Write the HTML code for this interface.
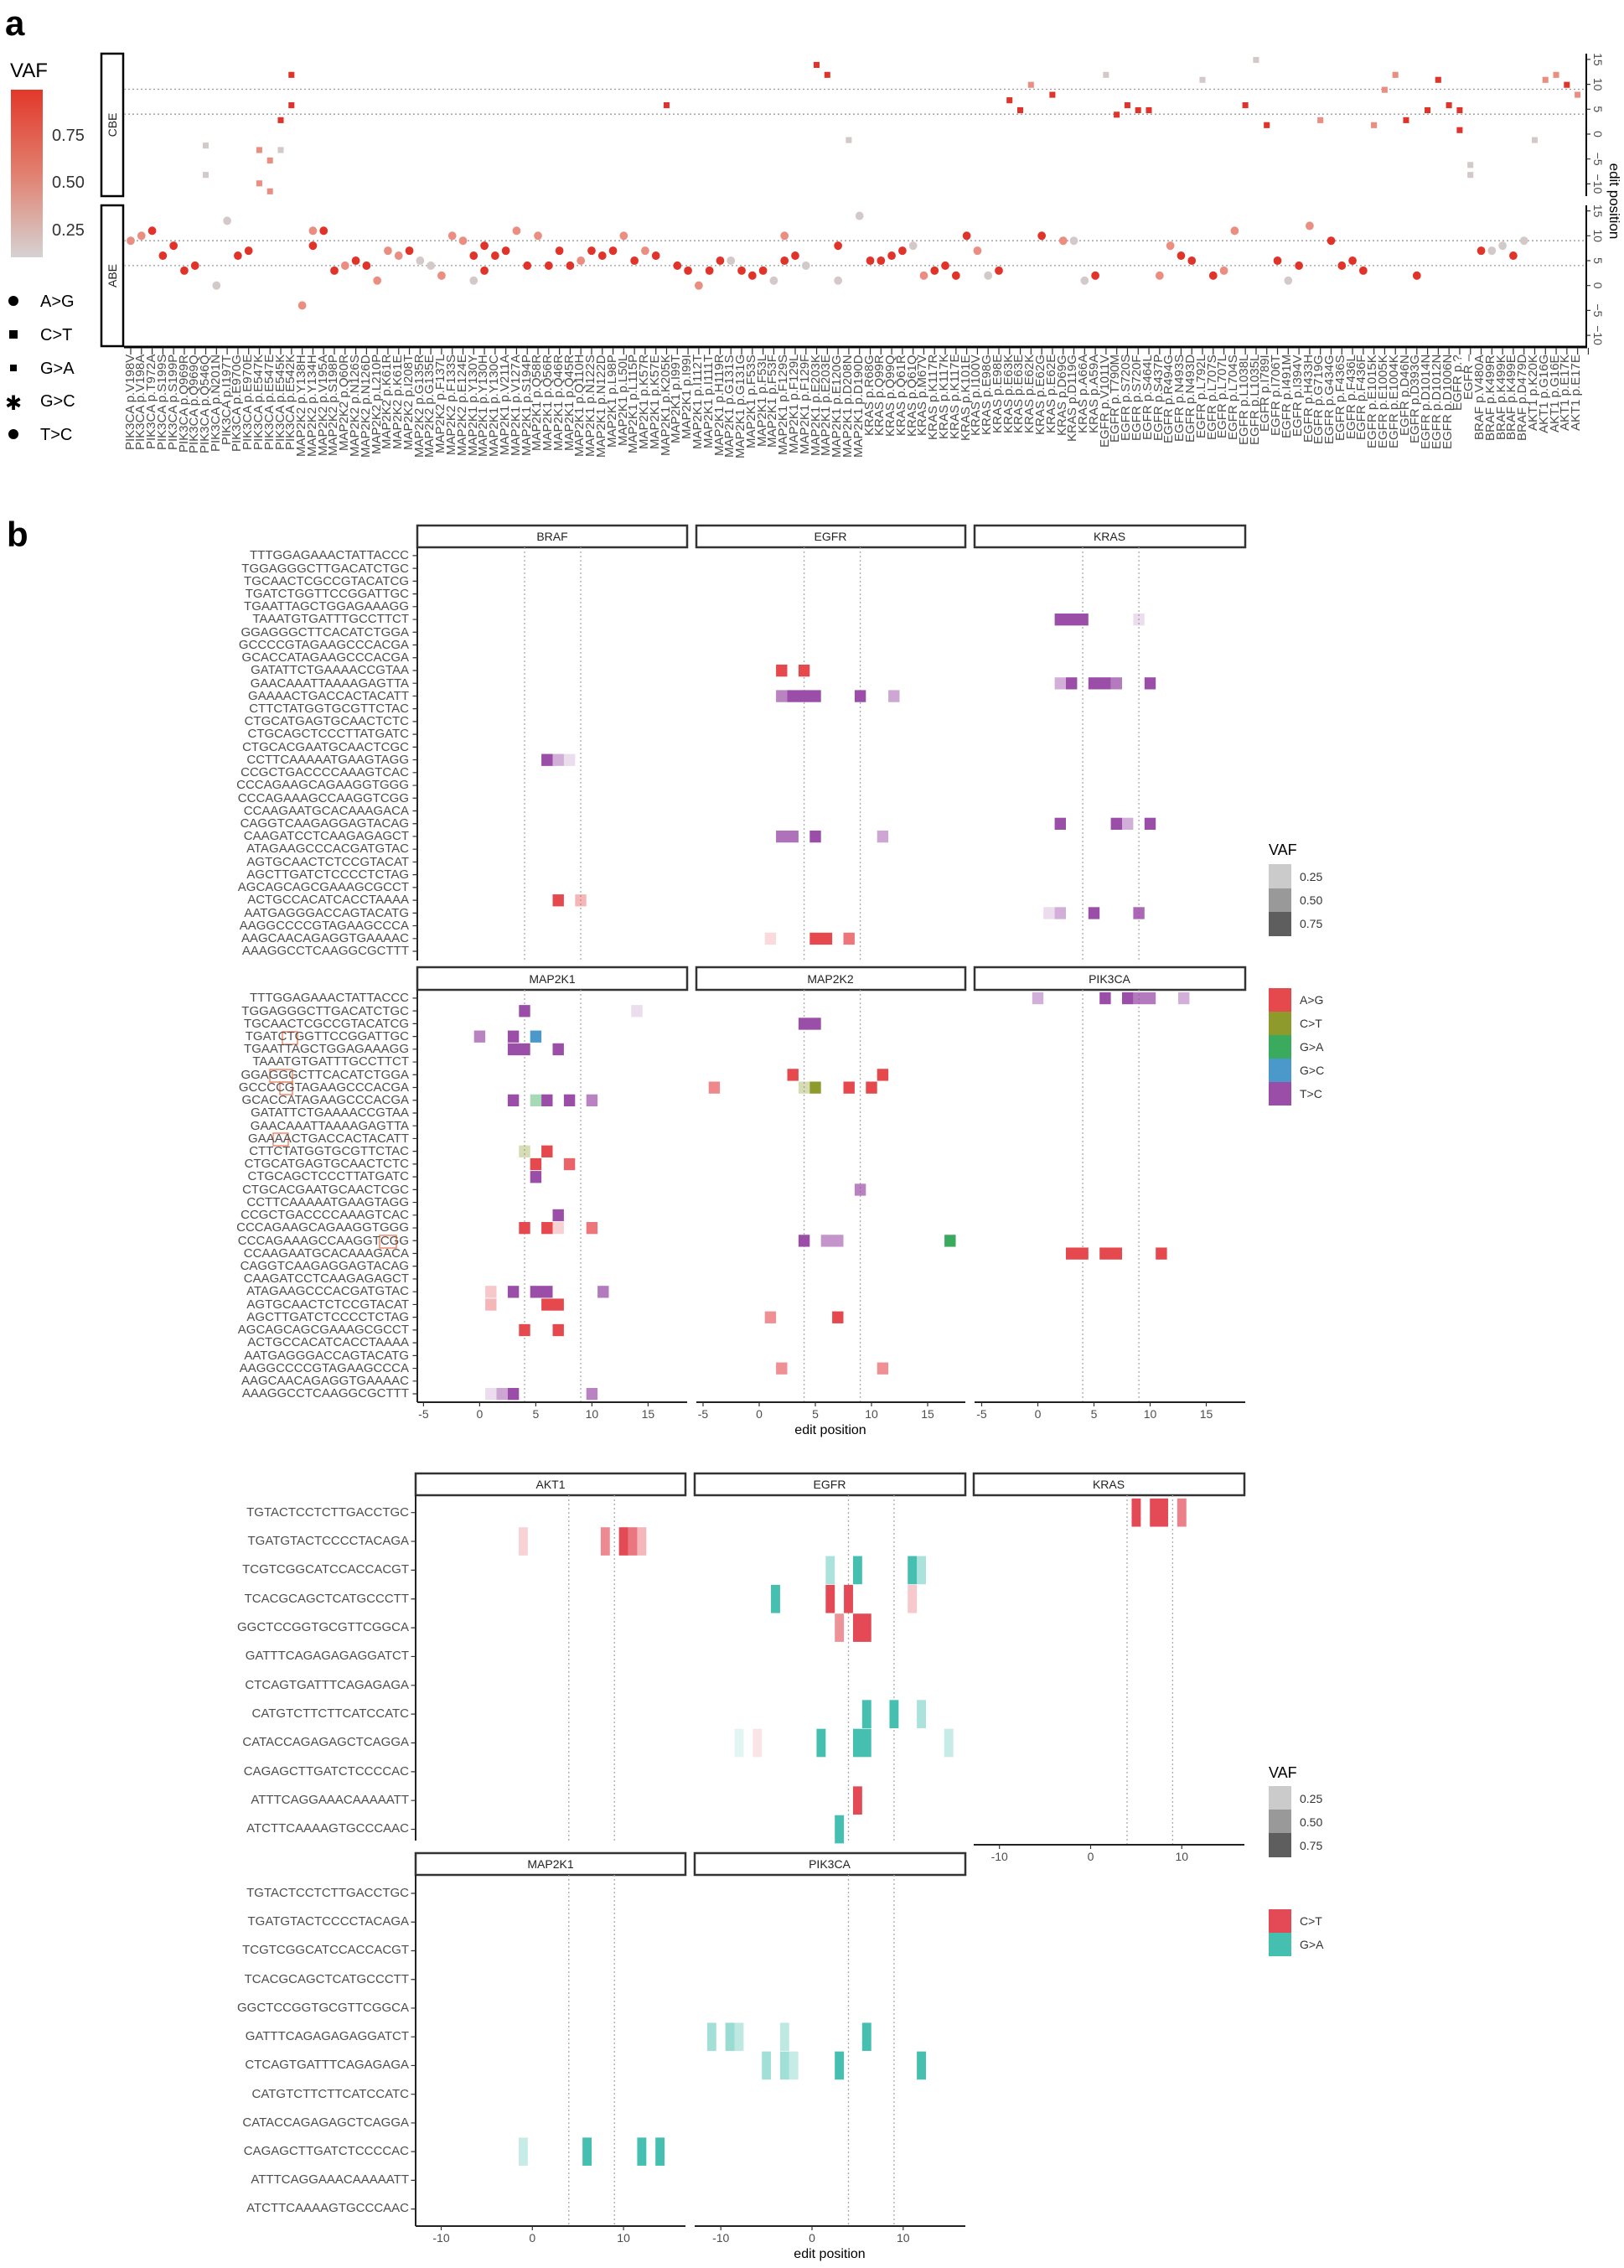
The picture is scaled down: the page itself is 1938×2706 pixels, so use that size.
<!DOCTYPE html>
<html><head><meta charset="utf-8"><style>
body{margin:0;background:#fff;}
#w{position:relative;width:1938px;height:2706px;overflow:hidden;font-family:"Liberation Sans",sans-serif;color:#4d4d4d;}
svg{position:absolute;left:0;top:0;}
.xl{position:absolute;top:423px;left:149.6px;display:flex;}
.xl div{width:12.79px;height:175px;writing-mode:vertical-rl;transform:rotate(180deg);text-align:right;font-size:15px;line-height:12.79px;white-space:nowrap;color:#4d4d4d;}
.rl{position:absolute;left:0;width:488px;text-align:right;font-size:15px;white-space:nowrap;color:#4d4d4d;}
.rl div{height:15.23px;line-height:15.23px;}
.rc{position:absolute;left:0;width:488px;text-align:right;font-size:15px;white-space:nowrap;color:#4d4d4d;}
</style></head><body><div id="w">
<svg width="1938" height="2706" viewBox="0 0 1938 2706" font-family="Liberation Sans, sans-serif">
<defs><linearGradient id="cb" x1="0" y1="0" x2="0" y2="1"><stop offset="0" stop-color="#e2382a"/><stop offset="0.5" stop-color="#e1806f"/><stop offset="1" stop-color="#d6d2d2"/></linearGradient></defs>
<!-- panel a -->
<text x="6" y="42" font-size="42" font-weight="bold" fill="#000">a</text>
<text x="12" y="92" font-size="24" fill="#000">VAF</text>
<rect x="13" y="107" width="38" height="200" fill="url(#cb)"/>
<g font-size="20" fill="#333"><text x="62" y="168">0.75</text><text x="62" y="224">0.50</text><text x="62" y="281">0.25</text></g>
<g font-size="20" fill="#000">
<circle cx="16" cy="359" r="6"/><text x="48" y="366">A&gt;G</text>
<rect x="11" y="394" width="10" height="10"/><text x="48" y="406">C&gt;T</text>
<rect x="12" y="435" width="8" height="8"/><text x="48" y="446">G&gt;A</text>
<text x="6" y="489" font-size="24">✱</text><text x="48" y="485">G&gt;C</text>
<circle cx="16" cy="518" r="6"/><text x="48" y="525">T&gt;C</text>
</g>
<rect x="121" y="64" width="26" height="170" fill="#fff" stroke="#000" stroke-width="2.5"/>
<rect x="121" y="245" width="26" height="168" fill="#fff" stroke="#000" stroke-width="2.5"/>
<text transform="translate(139 149) rotate(-90)" text-anchor="middle" font-size="14" fill="#222">CBE</text>
<text transform="translate(139 329) rotate(-90)" text-anchor="middle" font-size="14" fill="#222">ABE</text>
<g stroke="#999" stroke-width="1.3" stroke-dasharray="2 3">
<line x1="148" y1="136.2" x2="1893" y2="136.2"/><line x1="148" y1="106.5" x2="1893" y2="106.5"/>
<line x1="148" y1="316.9" x2="1893" y2="316.9"/><line x1="148" y1="287.2" x2="1893" y2="287.2"/>
</g>
<line x1="148" y1="414" x2="1894" y2="414" stroke="#000" stroke-width="3"/>
<line x1="1893" y1="64" x2="1893" y2="234" stroke="#000" stroke-width="2"/>
<line x1="1893" y1="245" x2="1893" y2="414" stroke="#000" stroke-width="2"/>
<line x1="155.4" y1="419" x2="1900" y2="419" stroke="#333" stroke-width="8" stroke-dasharray="1.2 11.59"/>
<g stroke="#333" stroke-width="1.2">
<path d="M1893 70.9h5M1893 100.6h5M1893 130.3h5M1893 160h5M1893 189.7h5M1893 219.4h5M1893 251.6h5M1893 281.3h5M1893 311h5M1893 340.7h5M1893 370.4h5M1893 400.1h5"/>
</g>
<g font-size="14" fill="#4d4d4d" text-anchor="middle">
<text transform="translate(1902 70.9) rotate(90)">15</text><text transform="translate(1902 100.6) rotate(90)">10</text><text transform="translate(1902 130.3) rotate(90)">5</text><text transform="translate(1902 160) rotate(90)">0</text><text transform="translate(1902 189.7) rotate(90)">−5</text><text transform="translate(1902 219.4) rotate(90)">−10</text>
<text transform="translate(1902 251.6) rotate(90)">15</text><text transform="translate(1902 281.3) rotate(90)">10</text><text transform="translate(1902 311) rotate(90)">5</text><text transform="translate(1902 340.7) rotate(90)">0</text><text transform="translate(1902 370.4) rotate(90)">−5</text><text transform="translate(1902 400.1) rotate(90)">−10</text>
</g>
<text transform="translate(1921 240) rotate(90)" text-anchor="middle" font-size="17" fill="#000">edit position</text>
<!-- CBE squares -->
<g transform="translate(156 160) scale(12.79 -5.94)">
<g fill="#d3c9c9"><rect x="6.72" y="-2.9" width="0.55" height="1.2"/><rect x="6.72" y="-8.8" width="0.55" height="1.2"/><rect x="13.72" y="-3.8" width="0.55" height="1.2"/><rect x="66.72" y="-1.8" width="0.55" height="1.2"/><rect x="90.72" y="11.3" width="0.55" height="1.2"/><rect x="99.72" y="10.3" width="0.55" height="1.2"/><rect x="104.72" y="14.3" width="0.55" height="1.2"/><rect x="124.72" y="-6.8" width="0.55" height="1.2"/><rect x="124.72" y="-8.8" width="0.55" height="1.2"/><rect x="130.72" y="-1.8" width="0.55" height="1.2"/></g>
<g fill="#e98e80"><rect x="11.72" y="-3.8" width="0.55" height="1.2"/><rect x="11.72" y="-10.5" width="0.55" height="1.2"/><rect x="12.72" y="-5.9" width="0.55" height="1.2"/><rect x="12.72" y="-12.1" width="0.55" height="1.2"/><rect x="83.72" y="9.3" width="0.55" height="1.2"/><rect x="110.72" y="2.2" width="0.55" height="1.2"/><rect x="115.72" y="1.2" width="0.55" height="1.2"/><rect x="116.72" y="8.3" width="0.55" height="1.2"/><rect x="117.72" y="11.3" width="0.55" height="1.2"/><rect x="131.72" y="10.3" width="0.55" height="1.2"/><rect x="132.72" y="11.3" width="0.55" height="1.2"/><rect x="134.72" y="7.3" width="0.55" height="1.2"/></g>
<g fill="#e0342a"><rect x="13.72" y="2.2" width="0.55" height="1.2"/><rect x="14.72" y="5.2" width="0.55" height="1.2"/><rect x="14.72" y="11.3" width="0.55" height="1.2"/><rect x="49.72" y="5.2" width="0.55" height="1.2"/><rect x="63.72" y="13.3" width="0.55" height="1.2"/><rect x="64.72" y="11.3" width="0.55" height="1.2"/><rect x="81.72" y="6.2" width="0.55" height="1.2"/><rect x="82.72" y="4.2" width="0.55" height="1.2"/><rect x="85.72" y="7.3" width="0.55" height="1.2"/><rect x="91.72" y="3.3" width="0.55" height="1.2"/><rect x="92.72" y="5.2" width="0.55" height="1.2"/><rect x="93.72" y="4.2" width="0.55" height="1.2"/><rect x="94.72" y="4.2" width="0.55" height="1.2"/><rect x="103.72" y="5.2" width="0.55" height="1.2"/><rect x="105.72" y="1.2" width="0.55" height="1.2"/><rect x="118.72" y="2.2" width="0.55" height="1.2"/><rect x="120.72" y="4.2" width="0.55" height="1.2"/><rect x="121.72" y="10.3" width="0.55" height="1.2"/><rect x="122.72" y="5.2" width="0.55" height="1.2"/><rect x="123.72" y="4.2" width="0.55" height="1.2"/><rect x="123.72" y="0.2" width="0.55" height="1.2"/><rect x="133.72" y="9.3" width="0.55" height="1.2"/></g>
</g>
<!-- ABE dots -->
<g transform="translate(156 340.7) scale(12.79 -5.94)">
<g fill="#d3c9c9"><ellipse cx="8" cy="0" rx="0.38" ry="0.85"/><ellipse cx="9" cy="13" rx="0.38" ry="0.85"/><ellipse cx="27" cy="5" rx="0.38" ry="0.85"/><ellipse cx="28" cy="4" rx="0.38" ry="0.85"/><ellipse cx="32" cy="1" rx="0.38" ry="0.85"/><ellipse cx="56" cy="5" rx="0.38" ry="0.85"/><ellipse cx="60" cy="1" rx="0.38" ry="0.85"/><ellipse cx="63" cy="4" rx="0.38" ry="0.85"/><ellipse cx="66" cy="1" rx="0.38" ry="0.85"/><ellipse cx="68" cy="14" rx="0.38" ry="0.85"/><ellipse cx="73" cy="8" rx="0.38" ry="0.85"/><ellipse cx="80" cy="2" rx="0.38" ry="0.85"/><ellipse cx="88" cy="9" rx="0.38" ry="0.85"/><ellipse cx="89" cy="1" rx="0.38" ry="0.85"/><ellipse cx="108" cy="1" rx="0.38" ry="0.85"/><ellipse cx="127" cy="7" rx="0.38" ry="0.85"/><ellipse cx="128" cy="8" rx="0.38" ry="0.85"/><ellipse cx="130" cy="9" rx="0.38" ry="0.85"/></g>
<g fill="#e98e80"><ellipse cx="0" cy="9" rx="0.38" ry="0.85"/><ellipse cx="1" cy="10" rx="0.38" ry="0.85"/><ellipse cx="16" cy="-4" rx="0.38" ry="0.85"/><ellipse cx="17" cy="11" rx="0.38" ry="0.85"/><ellipse cx="20" cy="4" rx="0.38" ry="0.85"/><ellipse cx="23" cy="1" rx="0.38" ry="0.85"/><ellipse cx="24" cy="7" rx="0.38" ry="0.85"/><ellipse cx="25" cy="6" rx="0.38" ry="0.85"/><ellipse cx="29" cy="2" rx="0.38" ry="0.85"/><ellipse cx="30" cy="10" rx="0.38" ry="0.85"/><ellipse cx="31" cy="9" rx="0.38" ry="0.85"/><ellipse cx="36" cy="11" rx="0.38" ry="0.85"/><ellipse cx="38" cy="10" rx="0.38" ry="0.85"/><ellipse cx="42" cy="5" rx="0.38" ry="0.85"/><ellipse cx="46" cy="10" rx="0.38" ry="0.85"/><ellipse cx="48" cy="7" rx="0.38" ry="0.85"/><ellipse cx="53" cy="0" rx="0.38" ry="0.85"/><ellipse cx="61" cy="10" rx="0.38" ry="0.85"/><ellipse cx="74" cy="2" rx="0.38" ry="0.85"/><ellipse cx="79" cy="7" rx="0.38" ry="0.85"/><ellipse cx="87" cy="9" rx="0.38" ry="0.85"/><ellipse cx="96" cy="2" rx="0.38" ry="0.85"/><ellipse cx="97" cy="8" rx="0.38" ry="0.85"/><ellipse cx="102" cy="3" rx="0.38" ry="0.85"/><ellipse cx="103" cy="11" rx="0.38" ry="0.85"/><ellipse cx="110" cy="12" rx="0.38" ry="0.85"/></g>
<g fill="#e0342a"><ellipse cx="2" cy="11" rx="0.38" ry="0.85"/><ellipse cx="3" cy="6" rx="0.38" ry="0.85"/><ellipse cx="4" cy="8" rx="0.38" ry="0.85"/><ellipse cx="5" cy="3" rx="0.38" ry="0.85"/><ellipse cx="6" cy="4" rx="0.38" ry="0.85"/><ellipse cx="10" cy="6" rx="0.38" ry="0.85"/><ellipse cx="11" cy="7" rx="0.38" ry="0.85"/><ellipse cx="17" cy="8" rx="0.38" ry="0.85"/><ellipse cx="18" cy="11" rx="0.38" ry="0.85"/><ellipse cx="19" cy="3" rx="0.38" ry="0.85"/><ellipse cx="21" cy="5" rx="0.38" ry="0.85"/><ellipse cx="22" cy="4" rx="0.38" ry="0.85"/><ellipse cx="26" cy="7" rx="0.38" ry="0.85"/><ellipse cx="32" cy="6" rx="0.38" ry="0.85"/><ellipse cx="33" cy="8" rx="0.38" ry="0.85"/><ellipse cx="33" cy="3" rx="0.38" ry="0.85"/><ellipse cx="34" cy="6" rx="0.38" ry="0.85"/><ellipse cx="35" cy="7" rx="0.38" ry="0.85"/><ellipse cx="37" cy="4" rx="0.38" ry="0.85"/><ellipse cx="39" cy="4" rx="0.38" ry="0.85"/><ellipse cx="40" cy="7" rx="0.38" ry="0.85"/><ellipse cx="41" cy="4" rx="0.38" ry="0.85"/><ellipse cx="43" cy="7" rx="0.38" ry="0.85"/><ellipse cx="44" cy="6" rx="0.38" ry="0.85"/><ellipse cx="45" cy="7" rx="0.38" ry="0.85"/><ellipse cx="47" cy="5" rx="0.38" ry="0.85"/><ellipse cx="49" cy="6" rx="0.38" ry="0.85"/><ellipse cx="51" cy="4" rx="0.38" ry="0.85"/><ellipse cx="52" cy="3" rx="0.38" ry="0.85"/><ellipse cx="54" cy="3" rx="0.38" ry="0.85"/><ellipse cx="55" cy="5" rx="0.38" ry="0.85"/><ellipse cx="57" cy="3" rx="0.38" ry="0.85"/><ellipse cx="58" cy="2" rx="0.38" ry="0.85"/><ellipse cx="59" cy="3" rx="0.38" ry="0.85"/><ellipse cx="61" cy="5" rx="0.38" ry="0.85"/><ellipse cx="62" cy="6" rx="0.38" ry="0.85"/><ellipse cx="66" cy="8" rx="0.38" ry="0.85"/><ellipse cx="69" cy="5" rx="0.38" ry="0.85"/><ellipse cx="70" cy="5" rx="0.38" ry="0.85"/><ellipse cx="71" cy="6" rx="0.38" ry="0.85"/><ellipse cx="72" cy="7" rx="0.38" ry="0.85"/><ellipse cx="75" cy="3" rx="0.38" ry="0.85"/><ellipse cx="76" cy="4" rx="0.38" ry="0.85"/><ellipse cx="77" cy="2" rx="0.38" ry="0.85"/><ellipse cx="78" cy="10" rx="0.38" ry="0.85"/><ellipse cx="81" cy="3" rx="0.38" ry="0.85"/><ellipse cx="85" cy="10" rx="0.38" ry="0.85"/><ellipse cx="90" cy="2" rx="0.38" ry="0.85"/><ellipse cx="98" cy="6" rx="0.38" ry="0.85"/><ellipse cx="99" cy="5" rx="0.38" ry="0.85"/><ellipse cx="101" cy="2" rx="0.38" ry="0.85"/><ellipse cx="107" cy="5" rx="0.38" ry="0.85"/><ellipse cx="109" cy="4" rx="0.38" ry="0.85"/><ellipse cx="112" cy="9" rx="0.38" ry="0.85"/><ellipse cx="113" cy="4" rx="0.38" ry="0.85"/><ellipse cx="114" cy="5" rx="0.38" ry="0.85"/><ellipse cx="115" cy="3" rx="0.38" ry="0.85"/><ellipse cx="120" cy="2" rx="0.38" ry="0.85"/><ellipse cx="126" cy="7" rx="0.38" ry="0.85"/><ellipse cx="129" cy="6" rx="0.38" ry="0.85"/></g>
</g>

<!-- panel b -->
<text x="8" y="652" font-size="42" font-weight="bold" fill="#000">b</text>
<g fill="#fff" stroke="#333" stroke-width="2.5">
<rect x="498" y="627" width="322" height="26"/><rect x="831" y="627" width="321" height="26"/><rect x="1163" y="627" width="323" height="26"/>
<rect x="498" y="1154" width="322" height="27"/><rect x="831" y="1154" width="321" height="27"/><rect x="1163" y="1154" width="323" height="27"/>
</g>
<g font-size="14" fill="#222" text-anchor="middle">
<text x="659" y="645">BRAF</text><text x="991" y="645">EGFR</text><text x="1324" y="645">KRAS</text>
<text x="659" y="1173">MAP2K1</text><text x="991" y="1173">MAP2K2</text><text x="1324" y="1173">PIK3CA</text>
</g>
<g stroke="#aaa" stroke-width="1.3" stroke-dasharray="2 3">
<path d="M626 653V1146M693.0 653V1146M959.6 653V1146M1026.6 653V1146M1292.1 653V1146M1359.1 653V1146"/>
<path d="M626 1181V1672M693.0 1181V1672M959.6 1181V1672M1026.6 1181V1672M1292.1 1181V1672M1359.1 1181V1672"/>
</g>
<g stroke="#222" stroke-width="2">
<path d="M498 653V1146M498 1181V1673M498 1673H820M831 1673H1152M1163 1673H1486"/>
</g>
<line x1="495" y1="662.3" x2="495" y2="1140" stroke="#333" stroke-width="5" stroke-dasharray="1.2 14.03"/>
<line x1="495" y1="1190.3" x2="495" y2="1668" stroke="#333" stroke-width="5" stroke-dasharray="1.2 14.03"/>
<g stroke="#333" stroke-width="1.2"><path d="M505.4 1673v5M572.4 1673v5M639.4 1673v5M706.4 1673v5M773.4 1673v5M839 1673v5M906 1673v5M973 1673v5M1040 1673v5M1107 1673v5M1171.5 1673v5M1238.5 1673v5M1305.5 1673v5M1372.5 1673v5M1439.5 1673v5"/></g>
<g font-size="14" fill="#4d4d4d" text-anchor="middle">
<text x="505.4" y="1692">-5</text><text x="572.4" y="1692">0</text><text x="639.4" y="1692">5</text><text x="706.4" y="1692">10</text><text x="773.4" y="1692">15</text>
<text x="839" y="1692">-5</text><text x="906" y="1692">0</text><text x="973" y="1692">5</text><text x="1040" y="1692">10</text><text x="1107" y="1692">15</text>
<text x="1171.5" y="1692">-5</text><text x="1238.5" y="1692">0</text><text x="1305.5" y="1692">5</text><text x="1372.5" y="1692">10</text><text x="1439.5" y="1692">15</text>
</g>
<text x="991" y="1711" font-size="16" fill="#000" text-anchor="middle">edit position</text>
<!-- b tiles top row -->
<g transform="translate(572.4 647.8) scale(13.4 15.23)">
<rect x="5.5" y="16.53" width="1" height="0.94" fill="#9b4ea8"/><rect x="6.5" y="16.53" width="1" height="0.94" fill="#9b4ea8" opacity="0.45"/><rect x="7.5" y="16.53" width="1" height="0.94" fill="#9b4ea8" opacity="0.2"/>
<rect x="6.5" y="27.53" width="1" height="0.94" fill="#e5484d"/><rect x="8.5" y="27.53" width="1" height="0.94" fill="#e5484d" opacity="0.4"/>
</g>
<g transform="translate(906 647.8) scale(13.4 15.23)">
<g fill="#e5484d"><rect x="1.5" y="9.53" width="1" height="0.94"/><rect x="3.5" y="9.53" width="1" height="0.94"/><rect x="0.5" y="30.53" width="1" height="0.94" opacity="0.2"/><rect x="4.5" y="30.53" width="2" height="0.94"/><rect x="7.5" y="30.53" width="1" height="0.94" opacity="0.75"/></g>
<g fill="#9b4ea8"><rect x="1.5" y="11.53" width="1" height="0.94" opacity="0.7"/><rect x="2.5" y="11.53" width="3" height="0.94"/><rect x="8.5" y="11.53" width="1" height="0.94"/><rect x="11.5" y="11.53" width="1" height="0.94" opacity="0.5"/>
<rect x="1.5" y="22.53" width="2" height="0.94" opacity="0.8"/><rect x="4.5" y="22.53" width="1" height="0.94"/><rect x="10.5" y="22.53" width="1" height="0.94" opacity="0.5"/></g>
</g>
<g transform="translate(1238.5 647.8) scale(13.4 15.23)" fill="#9b4ea8">
<rect x="1.5" y="5.53" width="3" height="0.94"/><rect x="8.5" y="5.53" width="1" height="0.94" opacity="0.2"/>
<rect x="1.5" y="10.53" width="1" height="0.94" opacity="0.45"/><rect x="2.5" y="10.53" width="1" height="0.94"/><rect x="4.5" y="10.53" width="2" height="0.94"/><rect x="6.5" y="10.53" width="1" height="0.94" opacity="0.75"/><rect x="9.5" y="10.53" width="1" height="0.94"/>
<rect x="1.5" y="21.53" width="1" height="0.94"/><rect x="6.5" y="21.53" width="1" height="0.94"/><rect x="7.5" y="21.53" width="1" height="0.94" opacity="0.45"/><rect x="9.5" y="21.53" width="1" height="0.94"/>
<rect x="0.5" y="28.53" width="1" height="0.94" opacity="0.2"/><rect x="1.5" y="28.53" width="1" height="0.94" opacity="0.45"/><rect x="4.5" y="28.53" width="1" height="0.94"/><rect x="8.5" y="28.53" width="1" height="0.94" opacity="0.85"/>
</g>
<!-- b tiles bottom row -->
<g transform="translate(572.4 1175.8) scale(13.4 15.23)">
<g fill="#9b4ea8"><rect x="3.5" y="1.53" width="1" height="0.94"/><rect x="13.5" y="1.53" width="1" height="0.94" opacity="0.2"/>
<rect x="-0.5" y="3.53" width="1" height="0.94" opacity="0.7"/><rect x="2.5" y="3.53" width="1" height="0.94"/>
<rect x="2.5" y="4.53" width="2" height="0.94"/><rect x="6.5" y="4.53" width="1" height="0.94"/>
<rect x="2.5" y="8.53" width="1" height="0.94"/><rect x="5.5" y="8.53" width="1" height="0.94"/><rect x="7.5" y="8.53" width="1" height="0.94"/><rect x="9.5" y="8.53" width="1" height="0.94" opacity="0.7"/>
<rect x="4.5" y="14.53" width="1" height="0.94"/><rect x="6.5" y="17.53" width="1" height="0.94"/>
<rect x="2.5" y="23.53" width="1" height="0.94"/><rect x="4.5" y="23.53" width="2" height="0.94"/><rect x="10.5" y="23.53" width="1" height="0.94" opacity="0.75"/>
<rect x="0.5" y="31.53" width="1" height="0.94" opacity="0.2"/><rect x="1.5" y="31.53" width="1" height="0.94" opacity="0.5"/><rect x="2.5" y="31.53" width="1" height="0.94"/><rect x="9.5" y="31.53" width="1" height="0.94" opacity="0.7"/></g>
<rect x="4.5" y="3.53" width="1" height="0.94" fill="#4b98cb"/>
<rect x="4.5" y="8.53" width="1" height="0.94" fill="#3aaa5e" opacity="0.45"/>
<rect x="3.5" y="12.53" width="1" height="0.94" fill="#8f9a2c" opacity="0.35"/>
<g fill="#e5484d"><rect x="5.5" y="12.53" width="1" height="0.94"/><rect x="4.5" y="13.53" width="1" height="0.94"/><rect x="7.5" y="13.53" width="1" height="0.94" opacity="0.85"/>
<rect x="3.5" y="18.53" width="1" height="0.94"/><rect x="5.5" y="18.53" width="1" height="0.94"/><rect x="6.5" y="18.53" width="1" height="0.94" opacity="0.25"/><rect x="9.5" y="18.53" width="1" height="0.94" opacity="0.75"/>
<rect x="0.5" y="23.53" width="1" height="0.94" opacity="0.3"/><rect x="0.5" y="24.53" width="1" height="0.94" opacity="0.4"/><rect x="5.5" y="24.53" width="2" height="0.94"/>
<rect x="3.5" y="26.53" width="1" height="0.94"/><rect x="6.5" y="26.53" width="1" height="0.94"/></g>
</g>
<g transform="translate(906 1175.8) scale(13.4 15.23)">
<g fill="#9b4ea8"><rect x="3.5" y="2.53" width="2" height="0.94"/><rect x="8.5" y="15.53" width="1" height="0.94" opacity="0.7"/><rect x="3.5" y="19.53" width="1" height="0.94"/><rect x="5.5" y="19.53" width="2" height="0.94" opacity="0.6"/></g>
<g fill="#e5484d"><rect x="2.5" y="6.53" width="1" height="0.94"/><rect x="10.5" y="6.53" width="1" height="0.94"/><rect x="-4.5" y="7.53" width="1" height="0.94" opacity="0.65"/><rect x="7.5" y="7.53" width="1" height="0.94"/><rect x="9.5" y="7.53" width="1" height="0.94"/>
<rect x="0.5" y="25.53" width="1" height="0.94" opacity="0.6"/><rect x="6.5" y="25.53" width="1" height="0.94"/><rect x="1.5" y="29.53" width="1" height="0.94" opacity="0.6"/><rect x="10.5" y="29.53" width="1" height="0.94" opacity="0.6"/></g>
<rect x="3.5" y="7.53" width="1" height="0.94" fill="#8f9a2c" opacity="0.35"/><rect x="4.5" y="7.53" width="1" height="0.94" fill="#8f9a2c"/>
<rect x="16.5" y="19.53" width="1" height="0.94" fill="#3aaa5e"/>
</g>
<g transform="translate(1238.5 1175.8) scale(13.4 15.23)">
<g fill="#9b4ea8"><rect x="-0.5" y="0.53" width="1" height="0.94" opacity="0.45"/><rect x="5.5" y="0.53" width="1" height="0.94"/><rect x="7.5" y="0.53" width="1" height="0.94"/><rect x="8.5" y="0.53" width="2" height="0.94" opacity="0.75"/><rect x="12.5" y="0.53" width="1" height="0.94" opacity="0.45"/></g>
<g fill="#e5484d"><rect x="2.5" y="20.53" width="2" height="0.94"/><rect x="5.5" y="20.53" width="2" height="0.94"/><rect x="10.5" y="20.53" width="1" height="0.94"/></g>
</g>
<g fill="none" stroke="#e8704a" stroke-width="1.2">
<rect x="337" y="1231" width="18" height="15"/><rect x="322" y="1276" width="27" height="15"/><rect x="334" y="1291" width="15" height="15"/><rect x="326" y="1352" width="18" height="15"/><rect x="453" y="1474" width="20" height="15"/>
</g>
<!-- legend b -->
<text x="1514" y="1020" font-size="18" fill="#000">VAF</text>
<rect x="1514" y="1031" width="27" height="29" fill="#cbcbcb"/><rect x="1514" y="1060" width="27" height="28" fill="#999"/><rect x="1514" y="1088" width="27" height="29" fill="#5e5e5e"/>
<g font-size="14" fill="#333"><text x="1551" y="1051">0.25</text><text x="1551" y="1079">0.50</text><text x="1551" y="1107">0.75</text></g>
<rect x="1514" y="1179" width="27" height="28" fill="#e5484d"/><rect x="1514" y="1207" width="27" height="28" fill="#8f9a2c"/><rect x="1514" y="1235" width="27" height="28" fill="#3aaa5e"/><rect x="1514" y="1263" width="27" height="28" fill="#4b98cb"/><rect x="1514" y="1291" width="27" height="28" fill="#9b4ea8"/>
<g font-size="14" fill="#333"><text x="1551" y="1198">A&gt;G</text><text x="1551" y="1226">C&gt;T</text><text x="1551" y="1254">G&gt;A</text><text x="1551" y="1282">G&gt;C</text><text x="1551" y="1310">T&gt;C</text></g>

<!-- panel c -->
<g fill="#fff" stroke="#333" stroke-width="2.5">
<rect x="496" y="1758" width="322" height="26"/><rect x="829" y="1758" width="323" height="26"/><rect x="1162" y="1758" width="323" height="26"/>
<rect x="496" y="2211" width="322" height="26"/><rect x="829" y="2211" width="323" height="26"/>
</g>
<g font-size="14" fill="#222" text-anchor="middle">
<text x="657" y="1776">AKT1</text><text x="990" y="1776">EGFR</text><text x="1323" y="1776">KRAS</text>
<text x="657" y="2229">MAP2K1</text><text x="990" y="2229">PIK3CA</text>
</g>
<g stroke="#aaa" stroke-width="1.3" stroke-dasharray="2 3">
<path d="M678.8 1784V2196M733.2 1784V2196M1012.5 1784V2196M1066.9 1784V2196M1345 1784V2200M1399.4 1784V2200"/>
<path d="M678.8 2237V2655M733.2 2237V2655M1012.5 2237V2655M1066.9 2237V2655"/>
</g>
<g stroke="#222" stroke-width="2"><path d="M496 1784V2196M496 2237V2656M496 2656H818M829 2656H1152M1162 2201H1485"/></g>
<line x1="493" y1="1804.1" x2="493" y2="2190" stroke="#333" stroke-width="5" stroke-dasharray="1.2 33.15"/>
<line x1="493" y1="2258.4" x2="493" y2="2640" stroke="#333" stroke-width="5" stroke-dasharray="1.2 33.04"/>
<g stroke="#333" stroke-width="1.2"><path d="M526.5 2656v5M635.3 2656v5M744.1 2656v5M860.2 2656v5M969 2656v5M1077.8 2656v5M1192.7 2201v5M1301.5 2201v5M1410.3 2201v5"/></g>
<g font-size="14" fill="#4d4d4d" text-anchor="middle">
<text x="526.5" y="2675">-10</text><text x="635.3" y="2675">0</text><text x="744.1" y="2675">10</text>
<text x="860.2" y="2675">-10</text><text x="969" y="2675">0</text><text x="1077.8" y="2675">10</text>
<text x="1192.7" y="2220">-10</text><text x="1301.5" y="2220">0</text><text x="1410.3" y="2220">10</text>
</g>
<text x="990" y="2694" font-size="16" fill="#000" text-anchor="middle">edit position</text>
<g transform="translate(635.3 1770.35) scale(10.88 34.35)" fill="#e34a55">
<rect x="-1.5" y="1.51" width="1" height="0.98" opacity="0.25"/><rect x="7.5" y="1.51" width="1" height="0.98" opacity="0.65"/><rect x="9.5" y="1.51" width="1" height="0.98"/><rect x="10.5" y="1.51" width="1" height="0.98" opacity="0.75"/><rect x="11.5" y="1.51" width="1" height="0.98" opacity="0.4"/>
</g>
<g transform="translate(1301.5 1770.35) scale(10.88 34.35)" fill="#e34a55">
<rect x="4.5" y="0.51" width="1" height="0.98"/><rect x="6.5" y="0.51" width="2" height="0.98"/><rect x="9.5" y="0.51" width="1" height="0.98" opacity="0.7"/>
</g>
<g transform="translate(969 1770.35) scale(10.88 34.35)">
<g fill="#45bfb0"><rect x="1.5" y="2.51" width="1" height="0.98" opacity="0.45"/><rect x="4.5" y="2.51" width="1" height="0.98"/><rect x="10.5" y="2.51" width="1" height="0.98"/><rect x="11.5" y="2.51" width="1" height="0.98" opacity="0.45"/>
<rect x="-4.5" y="3.51" width="1" height="0.98"/>
<rect x="5.5" y="7.51" width="1" height="0.98"/><rect x="8.5" y="7.51" width="1" height="0.98"/><rect x="11.5" y="7.51" width="1" height="0.98" opacity="0.45"/>
<rect x="-8.5" y="8.51" width="1" height="0.98" opacity="0.15"/><rect x="0.5" y="8.51" width="1" height="0.98"/><rect x="4.5" y="8.51" width="2" height="0.98"/><rect x="14.5" y="8.51" width="1" height="0.98" opacity="0.3"/>
<rect x="2.5" y="11.51" width="1" height="0.98"/></g>
<g fill="#e34a55"><rect x="1.5" y="3.51" width="1" height="0.98"/><rect x="3.5" y="3.51" width="1" height="0.98"/><rect x="10.5" y="3.51" width="1" height="0.98" opacity="0.3"/>
<rect x="2.5" y="4.51" width="1" height="0.98" opacity="0.6"/><rect x="4.5" y="4.51" width="2" height="0.98"/>
<rect x="-6.5" y="8.51" width="1" height="0.98" opacity="0.15"/><rect x="4.5" y="10.51" width="1" height="0.98"/></g>
</g>
<g transform="translate(635.3 2224.76) scale(10.88 34.24)" fill="#45bfb0">
<rect x="-1.5" y="9.51" width="1" height="0.98" opacity="0.3"/><rect x="5.5" y="9.51" width="1" height="0.98"/><rect x="11.5" y="9.51" width="1" height="0.98"/><rect x="13.5" y="9.51" width="1" height="0.98"/>
</g>
<g transform="translate(969 2224.76) scale(10.88 34.24)" fill="#45bfb0">
<rect x="-11.5" y="5.51" width="1" height="0.98" opacity="0.5"/><rect x="-9.5" y="5.51" width="1" height="0.98" opacity="0.55"/><rect x="-8.5" y="5.51" width="1" height="0.98" opacity="0.35"/><rect x="-3.5" y="5.51" width="1" height="0.98" opacity="0.35"/><rect x="5.5" y="5.51" width="1" height="0.98"/>
<rect x="-5.5" y="6.51" width="1" height="0.98" opacity="0.5"/><rect x="-3.5" y="6.51" width="1" height="0.98" opacity="0.5"/><rect x="-2.5" y="6.51" width="1" height="0.98" opacity="0.3"/><rect x="2.5" y="6.51" width="1" height="0.98"/><rect x="11.5" y="6.51" width="1" height="0.98"/>
</g>
<text x="1514" y="2121" font-size="18" fill="#000">VAF</text>
<rect x="1514" y="2131" width="27" height="28" fill="#cbcbcb"/><rect x="1514" y="2159" width="27" height="28" fill="#999"/><rect x="1514" y="2187" width="27" height="29" fill="#5e5e5e"/>
<g font-size="14" fill="#333"><text x="1551" y="2151">0.25</text><text x="1551" y="2179">0.50</text><text x="1551" y="2207">0.75</text></g>
<rect x="1514" y="2278" width="27" height="28" fill="#e34a55"/><rect x="1514" y="2306" width="27" height="28" fill="#45bfb0"/>
<g font-size="14" fill="#333"><text x="1551" y="2297">C&gt;T</text><text x="1551" y="2325">G&gt;A</text></g>
</svg>

<div class="xl">
<div>PIK3CA p.V198V</div><div>PIK3CA p.V198A</div><div>PIK3CA p.T972A</div><div>PIK3CA p.S199S</div><div>PIK3CA p.S199P</div><div>PIK3CA p.Q969R</div><div>PIK3CA p.Q969Q</div><div>PIK3CA p.Q546Q</div><div>PIK3CA p.N201N</div><div>PIK3CA p.I197T</div><div>PIK3CA p.E970G</div><div>PIK3CA p.E970E</div><div>PIK3CA p.E547K</div><div>PIK3CA p.E547E</div><div>PIK3CA p.E545K</div><div>PIK3CA p.E542K</div>
<div>MAP2K2 p.Y138H</div><div>MAP2K2 p.Y134H</div><div>MAP2K2 p.V195A</div><div>MAP2K2 p.S198P</div><div>MAP2K2 p.Q60R</div><div>MAP2K2 p.N126S</div><div>MAP2K2 p.N126D</div><div>MAP2K2 p.L210P</div><div>MAP2K2 p.K61R</div><div>MAP2K2 p.K61E</div><div>MAP2K2 p.I208T</div><div>MAP2K2 p.G135R</div><div>MAP2K2 p.G135E</div><div>MAP2K2 p.F137L</div><div>MAP2K2 p.F133S</div><div>MAP2K2 p.E124E</div>
<div>MAP2K1 p.Y130Y</div><div>MAP2K1 p.Y130H</div><div>MAP2K1 p.Y130C</div><div>MAP2K1 p.V211A</div><div>MAP2K1 p.V127A</div><div>MAP2K1 p.S194P</div><div>MAP2K1 p.Q58R</div><div>MAP2K1 p.Q56R</div><div>MAP2K1 p.Q46R</div><div>MAP2K1 p.Q45R</div><div>MAP2K1 p.Q110H</div><div>MAP2K1 p.N122S</div><div>MAP2K1 p.N122D</div><div>MAP2K1 p.L98P</div><div>MAP2K1 p.L50L</div><div>MAP2K1 p.L115P</div><div>MAP2K1 p.K57R</div><div>MAP2K1 p.K57E</div><div>MAP2K1 p.K205K</div><div>MAP2K1 p.I99T</div><div>MAP2K1 p.I99I</div><div>MAP2K1 p.I112T</div><div>MAP2K1 p.I111T</div><div>MAP2K1 p.H119R</div><div>MAP2K1 p.G131S</div><div>MAP2K1 p.G131G</div><div>MAP2K1 p.F53S</div><div>MAP2K1 p.F53L</div><div>MAP2K1 p.F53F</div><div>MAP2K1 p.F129S</div><div>MAP2K1 p.F129L</div><div>MAP2K1 p.F129F</div><div>MAP2K1 p.E203K</div><div>MAP2K1 p.E203E</div><div>MAP2K1 p.E120G</div><div>MAP2K1 p.D208N</div><div>MAP2K1 p.D190D</div>
<div>KRAS p.R68G</div><div>KRAS p.Q99R</div><div>KRAS p.Q99Q</div><div>KRAS p.Q61R</div><div>KRAS p.Q61Q</div><div>KRAS p.M67V</div><div>KRAS p.K117R</div><div>KRAS p.K117K</div><div>KRAS p.K117E</div><div>KRAS p.K101E</div><div>KRAS p.I100V</div><div>KRAS p.E98G</div><div>KRAS p.E98E</div><div>KRAS p.E63K</div><div>KRAS p.E63E</div><div>KRAS p.E62K</div><div>KRAS p.E62G</div><div>KRAS p.E62E</div><div>KRAS p.D69G</div><div>KRAS p.D119G</div><div>KRAS p.A66A</div><div>KRAS p.A59A</div>
<div>EGFR p.V1011V</div><div>EGFR p.T790M</div><div>EGFR p.S720S</div><div>EGFR p.S720F</div><div>EGFR p.S464L</div><div>EGFR p.S437P</div><div>EGFR p.R494G</div><div>EGFR p.N493S</div><div>EGFR p.N493D</div><div>EGFR p.L792L</div><div>EGFR p.L707S</div><div>EGFR p.L707L</div><div>EGFR p.L704S</div><div>EGFR p.L1038L</div><div>EGFR p.L1035L</div><div>EGFR p.I789I</div><div>EGFR p.I706T</div><div>EGFR p.I491M</div><div>EGFR p.I394V</div><div>EGFR p.H433H</div><div>EGFR p.G719G</div><div>EGFR p.G434G</div><div>EGFR p.F436S</div><div>EGFR p.F436L</div><div>EGFR p.F436F</div><div>EGFR p.E1015K</div><div>EGFR p.E1005K</div><div>EGFR p.E1004K</div><div>EGFR p.D46N</div><div>EGFR p.D393G</div><div>EGFR p.D1014N</div><div>EGFR p.D1012N</div><div>EGFR p.D1006N</div><div>EGFR p.?</div><div>EGFR –</div>
<div>BRAF p.V480A</div><div>BRAF p.K499R</div><div>BRAF p.K499K</div><div>BRAF p.K499E</div><div>BRAF p.D479D</div><div>AKT1 p.K20K</div><div>AKT1 p.G16G</div><div>AKT1 p.G16E</div><div>AKT1 p.E17K</div><div>AKT1 p.E17E</div>
</div>

<div class="rl" style="top:655.4px">
<div>TTTGGAGAAACTATTACCC</div><div>TGGAGGGCTTGACATCTGC</div><div>TGCAACTCGCCGTACATCG</div><div>TGATCTGGTTCCGGATTGC</div><div>TGAATTAGCTGGAGAAAGG</div><div>TAAATGTGATTTGCCTTCT</div><div>GGAGGGCTTCACATCTGGA</div><div>GCCCCGTAGAAGCCCACGA</div><div>GCACCATAGAAGCCCACGA</div><div>GATATTCTGAAAACCGTAA</div><div>GAACAAATTAAAAGAGTTA</div><div>GAAAACTGACCACTACATT</div><div>CTTCTATGGTGCGTTCTAC</div><div>CTGCATGAGTGCAACTCTC</div><div>CTGCAGCTCCCTTATGATC</div><div>CTGCACGAATGCAACTCGC</div><div>CCTTCAAAAATGAAGTAGG</div><div>CCGCTGACCCCAAAGTCAC</div><div>CCCAGAAGCAGAAGGTGGG</div><div>CCCAGAAAGCCAAGGTCGG</div><div>CCAAGAATGCACAAAGACA</div><div>CAGGTCAAGAGGAGTACAG</div><div>CAAGATCCTCAAGAGAGCT</div><div>ATAGAAGCCCACGATGTAC</div><div>AGTGCAACTCTCCGTACAT</div><div>AGCTTGATCTCCCCTCTAG</div><div>AGCAGCAGCGAAAGCGCCT</div><div>ACTGCCACATCACCTAAAA</div><div>AATGAGGGACCAGTACATG</div><div>AAGGCCCCGTAGAAGCCCA</div><div>AAGCAACAGAGGTGAAAAC</div><div>AAAGGCCTCAAGGCGCTTT</div>
</div>
<div class="rl" style="top:1183.4px">
<div>TTTGGAGAAACTATTACCC</div><div>TGGAGGGCTTGACATCTGC</div><div>TGCAACTCGCCGTACATCG</div><div>TGATCTGGTTCCGGATTGC</div><div>TGAATTAGCTGGAGAAAGG</div><div>TAAATGTGATTTGCCTTCT</div><div>GGAGGGCTTCACATCTGGA</div><div>GCCCCGTAGAAGCCCACGA</div><div>GCACCATAGAAGCCCACGA</div><div>GATATTCTGAAAACCGTAA</div><div>GAACAAATTAAAAGAGTTA</div><div>GAAAACTGACCACTACATT</div><div>CTTCTATGGTGCGTTCTAC</div><div>CTGCATGAGTGCAACTCTC</div><div>CTGCAGCTCCCTTATGATC</div><div>CTGCACGAATGCAACTCGC</div><div>CCTTCAAAAATGAAGTAGG</div><div>CCGCTGACCCCAAAGTCAC</div><div>CCCAGAAGCAGAAGGTGGG</div><div>CCCAGAAAGCCAAGGTCGG</div><div>CCAAGAATGCACAAAGACA</div><div>CAGGTCAAGAGGAGTACAG</div><div>CAAGATCCTCAAGAGAGCT</div><div>ATAGAAGCCCACGATGTAC</div><div>AGTGCAACTCTCCGTACAT</div><div>AGCTTGATCTCCCCTCTAG</div><div>AGCAGCAGCGAAAGCGCCT</div><div>ACTGCCACATCACCTAAAA</div><div>AATGAGGGACCAGTACATG</div><div>AAGGCCCCGTAGAAGCCCA</div><div>AAGCAACAGAGGTGAAAAC</div><div>AAAGGCCTCAAGGCGCTTT</div>
</div>
<div class="rc" style="top:1787.5px;line-height:34.35px">
<div>TGTACTCCTCTTGACCTGC</div><div>TGATGTACTCCCCTACAGA</div><div>TCGTCGGCATCCACCACGT</div><div>TCACGCAGCTCATGCCCTT</div><div>GGCTCCGGTGCGTTCGGCA</div><div>GATTTCAGAGAGAGGATCT</div><div>CTCAGTGATTTCAGAGAGA</div><div>CATGTCTTCTTCATCCATC</div><div>CATACCAGAGAGCTCAGGA</div><div>CAGAGCTTGATCTCCCCAC</div><div>ATTTCAGGAAACAAAAATT</div><div>ATCTTCAAAAGTGCCCAAC</div>
</div>
<div class="rc" style="top:2241.9px;line-height:34.24px">
<div>TGTACTCCTCTTGACCTGC</div><div>TGATGTACTCCCCTACAGA</div><div>TCGTCGGCATCCACCACGT</div><div>TCACGCAGCTCATGCCCTT</div><div>GGCTCCGGTGCGTTCGGCA</div><div>GATTTCAGAGAGAGGATCT</div><div>CTCAGTGATTTCAGAGAGA</div><div>CATGTCTTCTTCATCCATC</div><div>CATACCAGAGAGCTCAGGA</div><div>CAGAGCTTGATCTCCCCAC</div><div>ATTTCAGGAAACAAAAATT</div><div>ATCTTCAAAAGTGCCCAAC</div>
</div>
</div></body></html>
